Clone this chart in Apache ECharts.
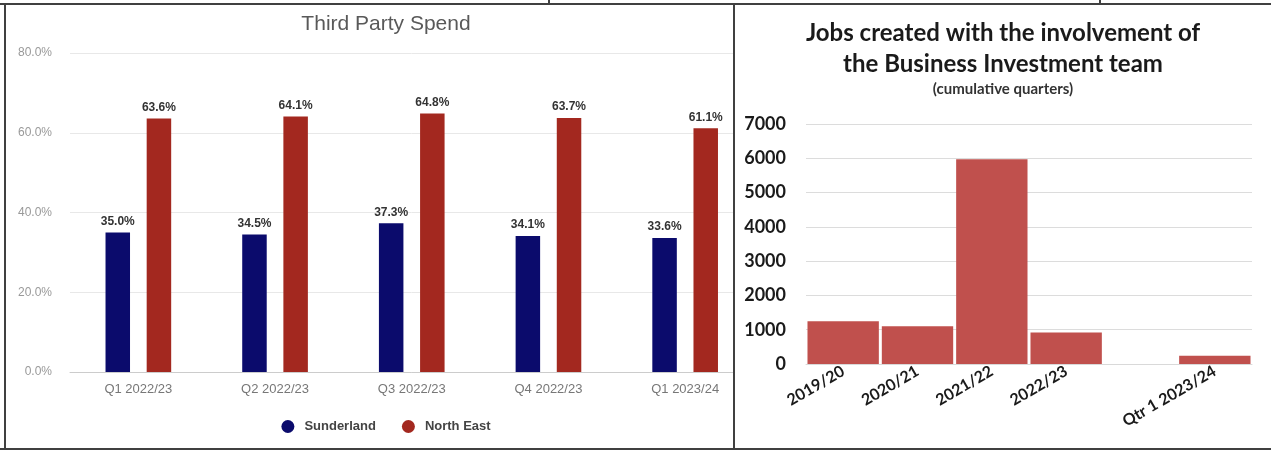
<!DOCTYPE html>
<html>
<head>
<meta charset="utf-8">
<script src="https://cdn.jsdelivr.net/npm/echarts@6/dist/echarts.min.js"></script>
<style>
  html, body { margin: 0; padding: 0; background: #fff; }
  #page { position: relative; width: 1271px; height: 451px; overflow: hidden; background: #fff; }
  .wrap { position: absolute; top: 0; height: 451px; overflow: hidden; }
  .ln { position: absolute; background: #404040; }
</style>
</head>
<body>
<div id="page">
  <div class="wrap" style="left:0;width:733px;"><div id="left" style="width:772px;height:451px;"></div></div>
  <div class="wrap" style="left:735px;width:536px;"><div id="right" style="width:536px;height:451px;"></div></div>
  <div class="ln" style="left:0;top:3px;width:1271px;height:2px;"></div>
  <div class="ln" style="left:0;top:448px;width:1271px;height:2px;"></div>
  <div class="ln" style="left:4px;top:3px;width:2px;height:447px;"></div>
  <div class="ln" style="left:733px;top:3px;width:2px;height:447px;"></div>
  <div class="ln" style="left:548px;top:0;width:2px;height:4px;"></div>
  <div class="ln" style="left:1099px;top:0;width:2px;height:4px;"></div>
</div>
<script>
// ---- Left chart data ----
const spendCategories = ['Q1 2022/23', 'Q2 2022/23', 'Q3 2022/23', 'Q4 2022/23', 'Q1 2023/24'];
const sunderlandValues = [35.0, 34.5, 37.3, 34.1, 33.6];
const northEastValues = [63.6, 64.1, 64.8, 63.7, 61.1];
const spendTicks = [0, 20, 40, 60, 80];

// ---- Right chart data ----
const jobsCategories = ['2019/20', '2020/21', '2021/22', '2022/23', '', 'Qtr 1 2023/24'];
const jobsValues = [1250, 1100, 5970, 920, null, 240];
const jobsTicks = [0, 1000, 2000, 3000, 4000, 5000, 6000, 7000];

const armFont = '"Liberation Sans", Arial, sans-serif';
const calFont = 'Lato, "Open Sans", sans-serif';

const left = echarts.init(document.getElementById('left'), null, { renderer: 'canvas' });
left.setOption({
  animation: false,
  textStyle: { fontFamily: armFont },
  title: {
    text: 'Third Party Spend', left: 'center', top: 9,
    textStyle: { fontFamily: armFont, fontSize: 21, fontWeight: 'normal', color: '#595959' }
  },
  legend: {
    left: 'center', top: 415, icon: 'circle', itemWidth: 13, itemHeight: 13, itemGap: 26,
    textStyle: { fontFamily: armFont, fontSize: 13, fontWeight: 'bold', color: '#444', padding: [0, 0, 0, 5] },
    data: ['Sunderland', 'North East']
  },
  grid: { left: 70, width: 683.5, top: 53, height: 319 },
  xAxis: {
    type: 'category', data: spendCategories,
    axisTick: { show: false },
    axisLine: { lineStyle: { color: '#cccccc' } },
    axisLabel: { color: '#777', fontSize: 13, margin: 11, fontFamily: armFont }
  },
  yAxis: {
    type: 'value', min: spendTicks[0], max: spendTicks[spendTicks.length - 1], interval: spendTicks[1] - spendTicks[0],
    axisLabel: { color: '#999', fontSize: 12, margin: 18, fontFamily: armFont, formatter: v => v.toFixed(1) + '%' },
    axisLine: { show: false }, axisTick: { show: false },
    splitLine: { lineStyle: { color: '#e8e8e8' } }
  },
  series: [
    {
      name: 'Sunderland', type: 'bar', data: sunderlandValues, barWidth: 24.5, barGap: '68%',
      itemStyle: { color: '#0b0b6c' },
      label: { show: true, position: 'top', distance: 5, fontSize: 12, fontWeight: 'bold', color: '#333', fontFamily: armFont, formatter: p => p.value.toFixed(1) + '%' }
    },
    {
      name: 'North East', type: 'bar', data: northEastValues, barWidth: 24.5,
      itemStyle: { color: '#a3281f' },
      label: { show: true, position: 'top', distance: 5, fontSize: 12, fontWeight: 'bold', color: '#333', fontFamily: armFont, formatter: p => p.value.toFixed(1) + '%' }
    }
  ]
});

const right = echarts.init(document.getElementById('right'), null, { renderer: 'canvas' });
right.setOption({
  animation: false,
  textStyle: { fontFamily: calFont },
  title: {
    text: 'Jobs created with the involvement of\nthe Business Investment team',
    subtext: '(cumulative quarters)',
    left: 'center', top: 13, itemGap: 0,
    textStyle: { fontFamily: calFont, fontSize: 24, fontWeight: 'bold', color: '#1a1a1a', lineHeight: 31 },
    subtextStyle: { fontFamily: calFont, fontSize: 15, fontWeight: 'bold', color: '#333', lineHeight: 18 }
  },
  grid: { left: 71, width: 446, top: 124, height: 240 },
  xAxis: {
    type: 'category', data: jobsCategories,
    axisTick: { show: false },
    axisLine: { lineStyle: { color: '#d9d9d9' } },
    axisLabel: { rotate: 30, interval: 0, color: '#1a1a1a', fontSize: 16, fontWeight: 'bold', margin: 6, fontFamily: calFont }
  },
  yAxis: {
    type: 'value', min: jobsTicks[0], max: jobsTicks[jobsTicks.length - 1], interval: jobsTicks[1] - jobsTicks[0],
    axisLabel: { color: '#1a1a1a', fontSize: 18, fontWeight: 'bold', margin: 20, fontFamily: calFont, formatter: v => String(v) },
    axisLine: { show: false }, axisTick: { show: false },
    splitLine: { lineStyle: { color: '#dcdcdc' } }
  },
  series: [{
    type: 'bar', data: jobsValues, barCategoryGap: '4%',
    itemStyle: { color: '#c0504d' }
  }]
});
</script>
</body>
</html>
